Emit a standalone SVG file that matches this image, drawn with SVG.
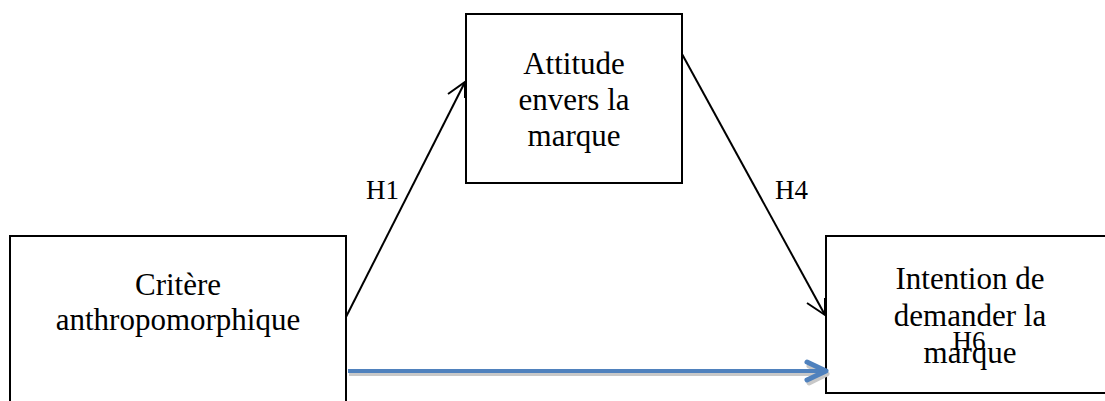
<svg xmlns="http://www.w3.org/2000/svg" width="1105" height="401" viewBox="0 0 1105 401">
<style>
.box{fill:#fff;stroke:#000;stroke-width:2}
.t{font-family:"Liberation Serif","Times New Roman",serif;font-size:31px;fill:#000;text-anchor:middle}
.lbl{font-family:"Liberation Serif","Times New Roman",serif;font-size:27px;fill:#000}
.blk{fill:none;stroke:#000;stroke-width:2}
</style>
<rect width="1105" height="401" fill="#fff"/>
<g id="node-critere">
<rect class="box" x="10" y="236" width="336" height="180"/>
<text class="t" x="178" y="295">Critère</text>
<text class="t" x="178" y="330">anthropomorphique</text>
</g>
<g id="node-attitude">
<rect class="box" x="466" y="14" width="216" height="169"/>
<text class="t" x="574" y="74">Attitude</text>
<text class="t" x="574" y="110">envers la</text>
<text class="t" x="574" y="146">marque</text>
</g>
<g id="node-intention">
<rect class="box" x="826" y="236" width="290" height="157"/>
<text class="t" x="970" y="289">Intention de</text>
<text class="t" x="970" y="326">demander la</text>
<text class="t" x="970" y="363">marque</text>
</g>
<g id="connectors">
<g id="h1">
<line class="blk" x1="346" y1="317" x2="465" y2="82"/>
<polyline class="blk" points="448,94 465,82 465,98"/>
<text class="lbl" x="366" y="199">H1</text>
</g>
<g id="h4">
<line class="blk" x1="682" y1="54" x2="825" y2="315"/>
<polyline class="blk" points="807,303 825,315 825,298"/>
<text class="lbl" x="775" y="199">H4</text>
</g>
<g id="h6">
<line x1="349" y1="374" x2="824" y2="374" stroke="#c8c8c8" stroke-width="4"/>
<polyline points="809,366 827,374 809,383" fill="none" stroke="#c8c8c8" stroke-width="5" stroke-linecap="round" stroke-linejoin="round"/>
<line x1="348" y1="371" x2="822" y2="371" stroke="#4F81BD" stroke-width="4"/>
<polyline points="807,362 826,371 807,380" fill="none" stroke="#4F81BD" stroke-width="5" stroke-linecap="round" stroke-linejoin="round"/>
<text class="lbl" x="969" y="350" text-anchor="middle">H6</text>
</g>
</g>
</svg>
